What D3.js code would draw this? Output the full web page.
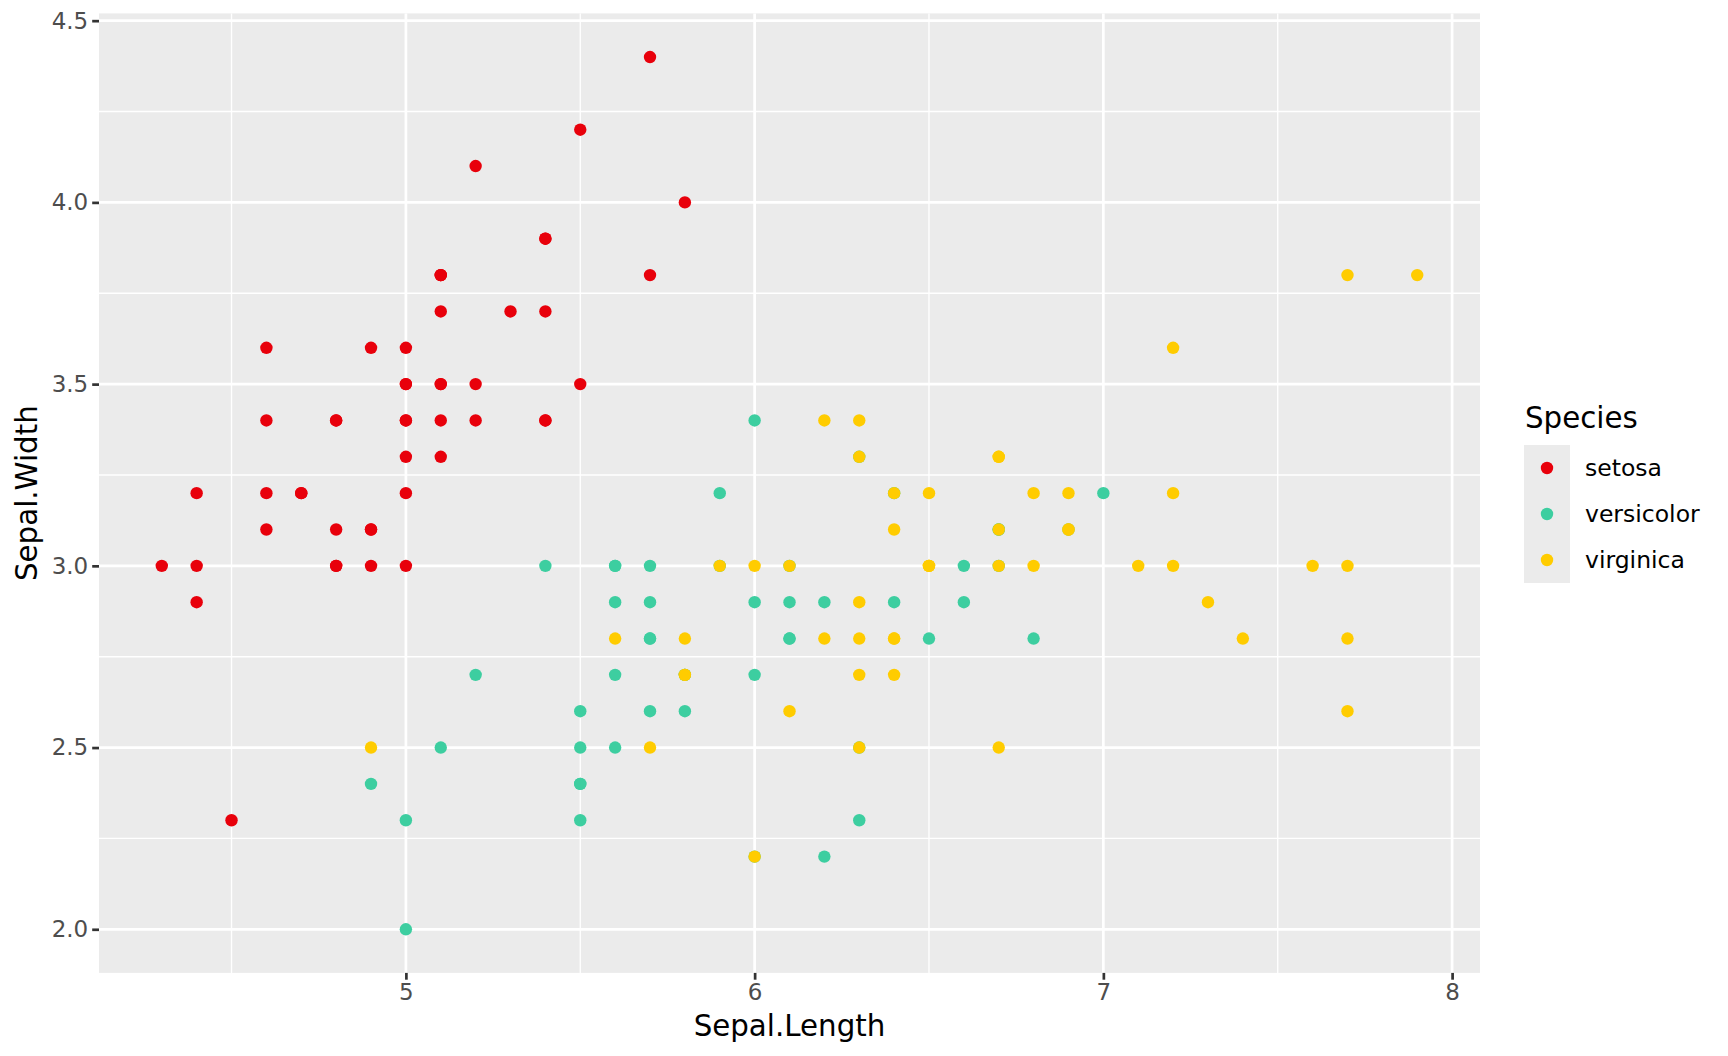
<!DOCTYPE html>
<html>
  <head>
    <meta charset="utf-8">
    <title>Sepal.Length vs Sepal.Width</title>
    <style>
      body { margin: 0; background: #fff; }
      svg text { font-family: "DejaVu Sans", sans-serif; }
    </style>
  </head>
  <body>
    <div class="chart-area"></div>

    <script src="https://d3js.org/d3.v7.min.js"></script>
    <script>
        // iris data, one array per species
        var species = ["setosa", "versicolor", "virginica"];

        var setosaLength = [5.1,4.9,4.7,4.6,5.0,5.4,4.6,5.0,4.4,4.9,5.4,4.8,4.8,4.3,5.8,5.7,5.4,5.1,5.7,5.1,5.4,5.1,4.6,5.1,4.8,5.0,5.0,5.2,5.2,4.7,4.8,5.4,5.2,5.5,4.9,5.0,5.5,4.9,4.4,5.1,5.0,4.5,4.4,5.0,5.1,4.8,5.1,4.6,5.3,5.0];
        var setosaWidth  = [3.5,3.0,3.2,3.1,3.6,3.9,3.4,3.4,2.9,3.1,3.7,3.4,3.0,3.0,4.0,4.4,3.9,3.5,3.8,3.8,3.4,3.7,3.6,3.3,3.4,3.0,3.4,3.5,3.4,3.2,3.1,3.4,4.1,4.2,3.1,3.2,3.5,3.6,3.0,3.4,3.5,2.3,3.2,3.5,3.8,3.0,3.8,3.2,3.7,3.3];

        var versicolorLength = [7.0,6.4,6.9,5.5,6.5,5.7,6.3,4.9,6.6,5.2,5.0,5.9,6.0,6.1,5.6,6.7,5.6,5.8,6.2,5.6,5.9,6.1,6.3,6.1,6.4,6.6,6.8,6.7,6.0,5.7,5.5,5.5,5.8,6.0,5.4,6.0,6.7,6.3,5.6,5.5,5.5,6.1,5.8,5.0,5.6,5.7,5.7,6.2,5.1,5.7];
        var versicolorWidth  = [3.2,3.2,3.1,2.3,2.8,2.8,3.3,2.4,2.9,2.7,2.0,3.0,2.2,2.9,2.9,3.1,3.0,2.7,2.2,2.5,3.2,2.8,2.5,2.8,2.9,3.0,2.8,3.0,2.9,2.6,2.4,2.4,2.7,2.7,3.0,3.4,3.1,2.3,3.0,2.5,2.6,3.0,2.6,2.3,2.7,3.0,2.9,2.9,2.5,2.8];

        var virginicaLength = [6.3,5.8,7.1,6.3,6.5,7.6,4.9,7.3,6.7,7.2,6.5,6.4,6.8,5.7,5.8,6.4,6.5,7.7,7.7,6.0,6.9,5.6,7.7,6.3,6.7,7.2,6.2,6.1,6.4,7.2,7.4,7.9,6.4,6.3,6.1,7.7,6.3,6.4,6.0,6.9,6.7,6.9,5.8,6.8,6.7,6.7,6.3,6.5,6.2,5.9];
        var virginicaWidth  = [3.3,2.7,3.0,2.9,3.0,3.0,2.5,2.9,2.5,3.6,3.2,2.7,3.0,2.5,2.8,3.2,3.0,3.8,2.6,2.2,3.2,2.8,2.8,2.7,3.3,3.2,2.8,3.0,2.8,3.0,2.8,3.8,2.8,2.8,2.6,3.0,3.4,3.1,3.0,3.1,3.1,3.1,2.7,3.2,3.3,3.0,2.5,3.0,3.4,3.0];

        var xTicks = [5, 6, 7, 8];
        var xMinor = [4.5, 5.5, 6.5, 7.5];
        var yTicks = [2.0, 2.5, 3.0, 3.5, 4.0, 4.5];
        var yMinor = [2.25, 2.75, 3.25, 3.75, 4.25];
        var speciesColors = ["#E8000B", "#3DCEA0", "#FFCC00"];

        // build rows for d3 from the arrays above
        var lengths = [setosaLength, versicolorLength, virginicaLength];
        var widths = [setosaWidth, versicolorWidth, virginicaWidth];
        var data = [];
        species.forEach(function(s, i) {
            lengths[i].forEach(function(v, j) {
                data.push({ species: s, length: v, width: widths[i][j] });
            });
        });

        var W = 1728, H = 1056;
        var panel = { left: 99, right: 1480, top: 13.4, bottom: 972.9 };

        var svg = d3.select(".chart-area")
            .append("svg")
                .attr("width", W)
                .attr("height", H);

        // ggplot style 5% expansion of the data range
        var xExt = d3.extent(data, d => d.length);
        var yExt = d3.extent(data, d => d.width);
        var xPad = (xExt[1] - xExt[0]) * 0.05, yPad = (yExt[1] - yExt[0]) * 0.05;

        var x = d3.scaleLinear()
            .domain([xExt[0] - xPad, xExt[1] + xPad])
            .range([panel.left, panel.right]);
        var y = d3.scaleLinear()
            .domain([yExt[0] - yPad, yExt[1] + yPad])
            .range([panel.bottom, panel.top]);

        var color = d3.scaleOrdinal()
            .domain(species)
            .range(speciesColors);

        // grey panel
        svg.append("rect")
            .attr("x", panel.left)
            .attr("y", panel.top)
            .attr("width", panel.right - panel.left)
            .attr("height", panel.bottom - panel.top)
            .attr("fill", "#EBEBEB");

        // grid, minor first
        var grid = svg.append("g").attr("stroke", "#fff").attr("fill", "none");
        grid.selectAll(".xminor").data(xMinor).enter().append("line")
            .attr("x1", d => x(d)).attr("x2", d => x(d))
            .attr("y1", panel.top).attr("y2", panel.bottom)
            .attr("stroke-width", 1.35);
        grid.selectAll(".yminor").data(yMinor).enter().append("line")
            .attr("y1", d => y(d)).attr("y2", d => y(d))
            .attr("x1", panel.left).attr("x2", panel.right)
            .attr("stroke-width", 1.35);
        grid.selectAll(".xmajor").data(xTicks).enter().append("line")
            .attr("x1", d => x(d)).attr("x2", d => x(d))
            .attr("y1", panel.top).attr("y2", panel.bottom)
            .attr("stroke-width", 2.7);
        grid.selectAll(".ymajor").data(yTicks).enter().append("line")
            .attr("y1", d => y(d)).attr("y2", d => y(d))
            .attr("x1", panel.left).attr("x2", panel.right)
            .attr("stroke-width", 2.7);

        // axes
        var xAxis = svg.append("g")
            .attr("transform", "translate(0," + panel.bottom + ")")
            .call(d3.axisBottom(x).tickValues(xTicks).tickFormat(d3.format("d"))
                .tickSize(6.8).tickPadding(4).tickSizeOuter(0));
        var yAxis = svg.append("g")
            .attr("transform", "translate(" + panel.left + ",0)")
            .call(d3.axisLeft(y).tickValues(yTicks).tickFormat(d3.format(".1f"))
                .tickSize(6.8).tickPadding(4).tickSizeOuter(0));
        [xAxis, yAxis].forEach(function(a) {
            a.select(".domain").remove();
            a.selectAll(".tick line").attr("stroke", "#333333").attr("stroke-width", 2.7);
            a.selectAll(".tick text")
                .attr("fill", "#4D4D4D")
                .style("font-size", "23px")
                .style("font-family", "'DejaVu Sans', sans-serif");
        });

        // points
        svg.append("g")
            .selectAll("circle")
            .data(data)
            .enter().append("circle")
                .attr("cx", d => x(d.length))
                .attr("cy", d => y(d.width))
                .attr("r", 6.2)
                .attr("fill", d => color(d.species));

        // axis titles
        svg.append("text")
            .attr("x", (panel.left + panel.right) / 2)
            .attr("y", 1036)
            .attr("text-anchor", "middle")
            .style("font-size", "29.3px")
            .text("Sepal.Length");
        svg.append("text")
            .attr("transform", "translate(37," + ((panel.top + panel.bottom) / 2) + ") rotate(-90)")
            .attr("text-anchor", "middle")
            .style("font-size", "29.3px")
            .text("Sepal.Width");

        // legend
        var legend = svg.append("g").attr("transform", "translate(1524,445)");
        legend.append("text")
            .attr("x", 1)
            .attr("y", -17)
            .style("font-size", "29.3px")
            .text("Species");
        var keys = legend.selectAll(".key")
            .data(species)
            .enter().append("g")
                .attr("transform", (d, i) => "translate(0," + (i * 46) + ")");
        keys.append("rect")
            .attr("width", 46).attr("height", 46)
            .attr("fill", "#EBEBEB");
        keys.append("circle")
            .attr("cx", 23).attr("cy", 23).attr("r", 6.2)
            .attr("fill", d => color(d));
        keys.append("text")
            .attr("x", 61).attr("y", 23)
            .attr("dy", "0.35em")
            .style("font-size", "23.5px")
            .text(d => d);
    </script>
  </body>
</html>
